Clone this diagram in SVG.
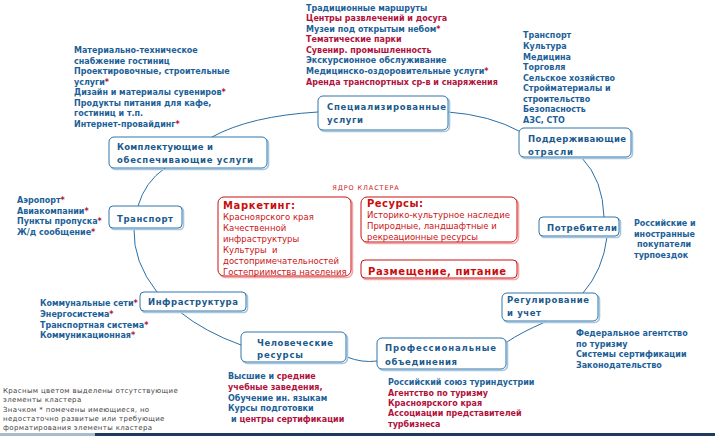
<svg xmlns="http://www.w3.org/2000/svg" width="715" height="436" viewBox="0 0 715 436">
<style>
text{font-family:"DejaVu Sans","Liberation Sans",sans-serif}
.t{font-size:8px;font-weight:bold;fill:#1d5f98}
.r{fill:#b0123c}
.nl{font-size:8.5px;font-weight:bold;fill:#1c5a8c}
.box{fill:#fff;stroke:#2f74aa;stroke-width:1}
.sh{fill:none;stroke:#a6c6de;stroke-width:1.6}
.cbox{fill:#fff;stroke:#cc1111;stroke-width:1}
.csh{fill:none;stroke:#f2a8a8;stroke-width:1.6}
.ct{font-size:10px;font-weight:bold;fill:#c80f0f}
.cx{font-size:8.5px;fill:#cc1414}
.lg{font-size:7px;fill:#444;letter-spacing:0.35px}
.con{fill:none;stroke:#2a6fa8;stroke-width:1}
</style>

<g id="connectors">
<path class="con" d="M138,206 Q145,182 165,168"/>
<path class="con" d="M212,137 Q250,116 318,112"/>
<path class="con" d="M448,112 Q490,115 521,132"/>
<path class="con" d="M582,158 Q603,180 604,217"/>
<path class="con" d="M607,237 Q603,270 583,293"/>
<path class="con" d="M545,322 Q520,333 507,342"/>
<path class="con" d="M347,357 Q362,363 377,361"/>
<path class="con" d="M241,345 Q205,332 180,312"/>
<path class="con" d="M157,292 Q133,262 134,229"/>
</g>

<g id="list-special">
<text class="t" x="306" y="10.5">Традиционные маршруты</text>
<text class="t r" x="306" y="21">Центры развлечений и досуга</text>
<text class="t" x="306" y="31.5">Музеи под открытым небом<tspan class="r">*</tspan></text>
<text class="t r" x="306" y="42">Тематические парки</text>
<text class="t r" x="306" y="52.5">Сувенир. промышленность</text>
<text class="t" x="306" y="63">Экскурсионное обслуживание</text>
<text class="t" x="306" y="73.5">Медицинско-оздоровительные услуги<tspan class="r">*</tspan></text>
<text class="t r" x="306" y="84.5">Аренда транспортных ср-в и снаряжения</text>
</g>

<g id="list-complect">
<text class="t" x="74" y="53">Материально-техническое</text>
<text class="t" x="74" y="63.5">снабжение гостиниц</text>
<text class="t" x="74" y="74">Проектировочные, строительные</text>
<text class="t" x="74" y="84.5">услуги<tspan class="r">*</tspan></text>
<text class="t" x="74" y="95">Дизайн и материалы сувениров<tspan class="r">*</tspan></text>
<text class="t" x="74" y="105.5">Продукты питания для кафе,</text>
<text class="t" x="74" y="116">гостиниц и т.п.</text>
<text class="t" x="74" y="126.5">Интернет-провайдинг<tspan class="r">*</tspan></text>
</g>

<g id="list-support">
<text class="t" x="523" y="38">Транспорт</text>
<text class="t" x="523" y="48.5">Культура</text>
<text class="t" x="523" y="59.5">Медицина</text>
<text class="t" x="523" y="70">Торговля</text>
<text class="t" x="523" y="80.5">Сельское хозяйство</text>
<text class="t" x="523" y="91">Стройматериалы и</text>
<text class="t" x="523" y="101.5">строительство</text>
<text class="t" x="523" y="112">Безопасность</text>
<text class="t" x="523" y="122.5">АЗС, СТО</text>
</g>

<g id="list-transport">
<text class="t" x="17" y="203">Аэропорт<tspan class="r">*</tspan></text>
<text class="t" x="17" y="213.5">Авиакомпании<tspan class="r">*</tspan></text>
<text class="t" x="17" y="224">Пункты пропуска<tspan class="r">*</tspan></text>
<text class="t" x="17" y="234.5">Ж/д сообщение<tspan class="r">*</tspan></text>
</g>

<g id="list-infra">
<text class="t" x="40" y="306">Коммунальные сети<tspan class="r">*</tspan></text>
<text class="t" x="40" y="316.5">Энергосистема<tspan class="r">*</tspan></text>
<text class="t" x="40" y="327.5">Транспортная система<tspan class="r">*</tspan></text>
<text class="t" x="40" y="338">Коммуникационная<tspan class="r">*</tspan></text>
</g>

<g id="list-consumers">
<text class="t" x="634" y="226">Российские и</text>
<text class="t" x="634" y="236.5">иностранные</text>
<text class="t" x="637" y="247">покупатели</text>
<text class="t" x="634" y="258">турпоездок</text>
</g>

<g id="list-regul">
<text class="t" x="576" y="336">Федеральное агентство</text>
<text class="t" x="576" y="346.5">по туризму</text>
<text class="t" x="576" y="357">Системы сертификации</text>
<text class="t" x="576" y="368">Законодательство</text>
</g>

<g id="list-human">
<text class="t" x="228" y="379">Высшие и <tspan class="r">средние</tspan></text>
<text class="t r" x="228" y="390">учебные заведения,</text>
<text class="t" x="228" y="400.5">Обучение ин. языкам</text>
<text class="t" x="228" y="411">Курсы подготовки</text>
<text class="t" x="231" y="422">и <tspan class="r">центры сертификации</tspan></text>
</g>

<g id="list-prof">
<text class="t" x="388" y="385">Российский союз туриндустрии</text>
<text class="t r" x="388" y="395.5">Агентство по туризму</text>
<text class="t r" x="388" y="405.5">Красноярского края</text>
<text class="t r" x="388" y="416">Ассоциации представителей</text>
<text class="t r" x="388" y="426.5">турбизнеса</text>
</g>

<g id="node-special">
<rect class="sh" x="319.5" y="97.5" width="130" height="34" rx="5"/>
<rect class="box" x="318" y="96" width="130" height="34" rx="5"/>
<text class="nl" x="327" y="110" textLength="119" lengthAdjust="spacing">Специализированные</text>
<text class="nl" x="327" y="123" textLength="36" lengthAdjust="spacing">услуги</text>
</g>

<g id="node-support">
<rect class="sh" x="520.5" y="129.5" width="112" height="29" rx="5"/>
<rect class="box" x="519" y="128" width="112" height="29" rx="5"/>
<text class="nl" x="528" y="141.5" textLength="98" lengthAdjust="spacing">Поддерживающие</text>
<text class="nl" x="528" y="154.5" textLength="45" lengthAdjust="spacing">отрасли</text>
</g>

<g id="node-complect">
<rect class="sh" x="110.5" y="138.5" width="158" height="31" rx="5"/>
<rect class="box" x="109" y="137" width="158" height="31" rx="5"/>
<text class="nl" x="117" y="149.5" textLength="96" lengthAdjust="spacing">Комплектующие и</text>
<text class="nl" x="117" y="162.5" textLength="136" lengthAdjust="spacing">обеспечивающие услуги</text>
</g>

<g id="node-transport">
<rect class="sh" x="110.5" y="207.5" width="73" height="22" rx="4"/>
<rect class="box" x="109" y="206" width="73" height="22" rx="4"/>
<text class="nl" x="117" y="222" textLength="56" lengthAdjust="spacing">Транспорт</text>
</g>

<g id="node-consumers">
<rect class="sh" x="540.5" y="218.5" width="80" height="19" rx="4"/>
<rect class="box" x="539" y="217" width="80" height="19" rx="4"/>
<text class="nl" x="547" y="231" textLength="70" lengthAdjust="spacing">Потребители</text>
</g>

<g id="node-regul">
<rect class="sh" x="503.5" y="294.5" width="96" height="28" rx="5"/>
<rect class="box" x="502" y="293" width="96" height="28" rx="5"/>
<text class="nl" x="507" y="303" textLength="82" lengthAdjust="spacing">Регулирование</text>
<text class="nl" x="507" y="316" textLength="34" lengthAdjust="spacing">и учет</text>
</g>

<g id="node-infra">
<rect class="sh" x="141.5" y="293.5" width="106" height="19" rx="4"/>
<rect class="box" x="140" y="292" width="106" height="19" rx="4"/>
<text class="nl" x="148" y="305" textLength="90" lengthAdjust="spacing">Инфраструктура</text>
</g>

<g id="node-human">
<rect class="sh" x="242.5" y="333.5" width="105" height="30" rx="5"/>
<rect class="box" x="241" y="332" width="105" height="30" rx="5"/>
<text class="nl" x="257" y="346" textLength="76" lengthAdjust="spacing">Человеческие</text>
<text class="nl" x="257" y="358" textLength="46" lengthAdjust="spacing">ресурсы</text>
</g>

<g id="node-prof">
<rect class="sh" x="378.5" y="339.5" width="129" height="31" rx="5"/>
<rect class="box" x="377" y="338" width="129" height="31" rx="5"/>
<text class="nl" x="385" y="350.5" textLength="111" lengthAdjust="spacing">Профессиональные</text>
<text class="nl" x="385" y="364.5" textLength="72" lengthAdjust="spacing">объединения</text>
</g>

<g id="core">
<text x="366" y="189.5" text-anchor="middle" style="font-size:6.5px;fill:#cc2020;letter-spacing:0.9px">ЯДРО КЛАСТЕРА</text>
</g>

<g id="core-marketing">
<rect class="csh" x="219.5" y="198.5" width="133" height="79" rx="6"/>
<rect class="cbox" x="218" y="197" width="133" height="79" rx="6"/>
<text class="ct" x="223" y="209" textLength="72" lengthAdjust="spacing">Маркетинг:</text>
<text class="cx" x="223" y="219.5">Красноярского края</text>
<text class="cx" x="223" y="230.5">Качественной</text>
<text class="cx" x="223" y="241.5">инфраструктуры</text>
<text class="cx" x="223" y="252.5" xml:space="preserve">Культуры  и</text>
<text class="cx" x="223" y="263.5">достопримечательностей</text>
<text class="cx" x="223" y="274.5">Гостеприимства населения</text>
</g>

<g id="core-resources">
<rect class="csh" x="362.5" y="198.5" width="156" height="45" rx="6"/>
<rect class="cbox" x="361" y="197" width="156" height="45" rx="6"/>
<text class="ct" x="367" y="207" textLength="56" lengthAdjust="spacing">Ресурсы:</text>
<text class="cx" x="367" y="217.5">Историко-культурное наследие</text>
<text class="cx" x="367" y="228.5">Природные, ландшафтные и</text>
<text class="cx" x="367" y="239.5">рекреационные ресурсы</text>
</g>

<g id="core-accom">
<rect class="csh" x="362.5" y="261.5" width="156" height="18" rx="4"/>
<rect class="cbox" x="361" y="260" width="156" height="18" rx="4"/>
<text class="ct" x="368" y="274.5" textLength="138" lengthAdjust="spacing">Размещение, питание</text>
</g>

<g id="legend">
<text class="lg" x="3" y="393">Красным цветом выделены отсутствующие</text>
<text class="lg" x="3" y="402">элементы кластера</text>
<text class="lg" x="3" y="411.5">Значком * помечены имеющиеся, но</text>
<text class="lg" x="3" y="421">недостаточно развитые или требующие</text>
<text class="lg" x="3" y="430">форматирования элементы кластера</text>
</g>

<g id="footer">
<rect x="0" y="433" width="95" height="3" fill="#a9bccc"/>
<rect x="95" y="433" width="620" height="3" fill="#1e3b5c"/>
</g>
</svg>
